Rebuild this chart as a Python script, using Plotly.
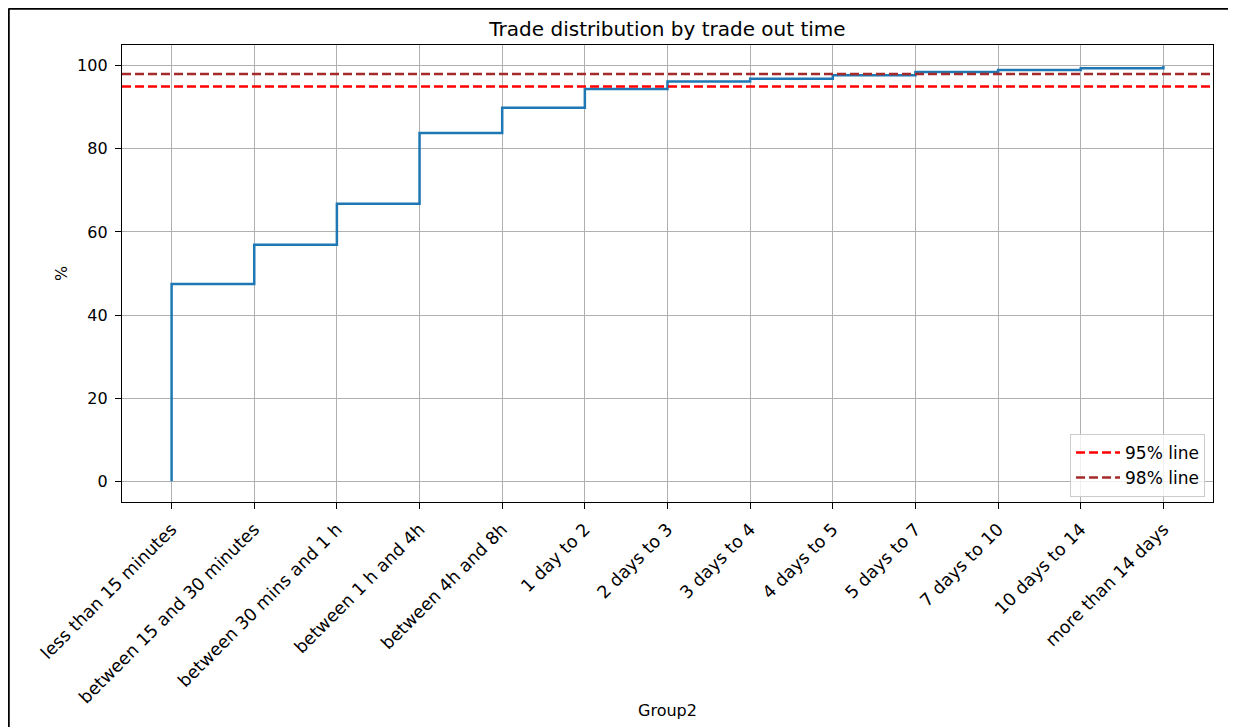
import plotly.graph_objects as go

categories = ["less than 15 minutes", "between 15 and 30 minutes", "between 30 mins and 1 h",
              "between 1 h and 4h", "between 4h and 8h", "1 day to 2", "2 days to 3",
              "3 days to 4", "4 days to 5", "5 days to 7", "7 days to 10", "10 days to 14",
              "more than 14 days"]
cumulative_pct = [47.5, 56.9, 66.8, 83.8, 89.9, 94.4, 96.2, 96.9, 97.7, 98.5, 99.0, 99.4, 100.0]
start_value = 0.0
line_95 = 95
line_98 = 98
y_ticks = [0, 20, 40, 60, 80, 100]

FONT = "DejaVu Sans"
idx = list(range(len(categories)))

# page body has an 8px margin, figure size/margins compensate for it
W, H = 1228, 719
ML, MR, MT, MB = 114, 23, 37, 225
PW, PH = W - ML - MR, H - MT - MB

fig = go.Figure()
fig.add_trace(go.Scatter(
    x=[idx[0]] + idx, y=[start_value] + cumulative_pct,
    mode="lines", line=dict(color="#1f77b4", width=2.5, shape="hv"),
    showlegend=False, hoverinfo="skip"))

for val, col, name in [(line_95, "red", "95% line"), (line_98, "#a52a2a", "98% line")]:
    fig.add_shape(type="line", xref="paper", x0=0, x1=1, yref="y", y0=val, y1=val,
                  line=dict(color=col, width=2.5, dash="9px,4px"),
                  showlegend=True, name=name, layer="above")

# figure frame (top and left border of the picture)
fx = (0.5 - ML) / PW
fy = (PH + MT - 0.5) / PH
fig.add_shape(type="line", xref="paper", yref="paper", x0=fx, x1=1.05, y0=fy, y1=fy,
              line=dict(color="black", width=2.5))
fig.add_shape(type="line", xref="paper", yref="paper", x0=fx, x1=fx, y0=fy, y1=-0.6,
              line=dict(color="black", width=2.5))

fig.add_annotation(text="Group2", xref="paper", yref="paper", x=0.5,
                   y=(PH + MT - 702) / PH, xanchor="center", yanchor="middle",
                   showarrow=False, font=dict(size=16, family=FONT, color="black"))

fig.update_layout(
    width=W, height=H,
    margin=dict(l=ML, r=MR, t=MT, b=MB),
    paper_bgcolor="white", plot_bgcolor="white",
    font=dict(family=FONT, size=17, color="black"),
    title=dict(text="Trade distribution by trade out time", x=0.5, xref="paper",
               xanchor="center", y=1 - 21 / H, yanchor="middle",
               font=dict(size=20, family=FONT, color="black")),
    legend=dict(x=0.9927, y=0.011, xanchor="right", yanchor="bottom",
                bgcolor="rgba(255,255,255,0.8)", bordercolor="#cccccc", borderwidth=1,
                font=dict(size=17, family=FONT), itemwidth=44, tracegroupgap=0),
    showlegend=True,
)
fig.update_xaxes(
    range=[-0.6, 12.6], tickmode="array", tickvals=idx, ticktext=categories,
    tickangle=-45, showgrid=True, gridcolor="#b0b0b0", gridwidth=1.3,
    ticks="outside", ticklen=6, tickwidth=1.3, tickcolor="black",
    showline=True, linecolor="black", linewidth=1.3, mirror=True, zeroline=False,
    ticklabelstandoff=3, tickfont=dict(size=17.5, family=FONT),
)
fig.update_yaxes(
    range=[-5, 105], tickmode="array", tickvals=y_ticks,
    showgrid=True, gridcolor="#b0b0b0", gridwidth=1.3,
    ticks="outside", ticklen=6, tickwidth=1.3, tickcolor="black",
    showline=True, linecolor="black", linewidth=1.3, mirror=True, zeroline=False,
    ticklabelstandoff=4, tickfont=dict(size=16, family=FONT),
    title=dict(text="%", font=dict(size=16, family=FONT), standoff=5),
)

fig.write_html("out.html")
